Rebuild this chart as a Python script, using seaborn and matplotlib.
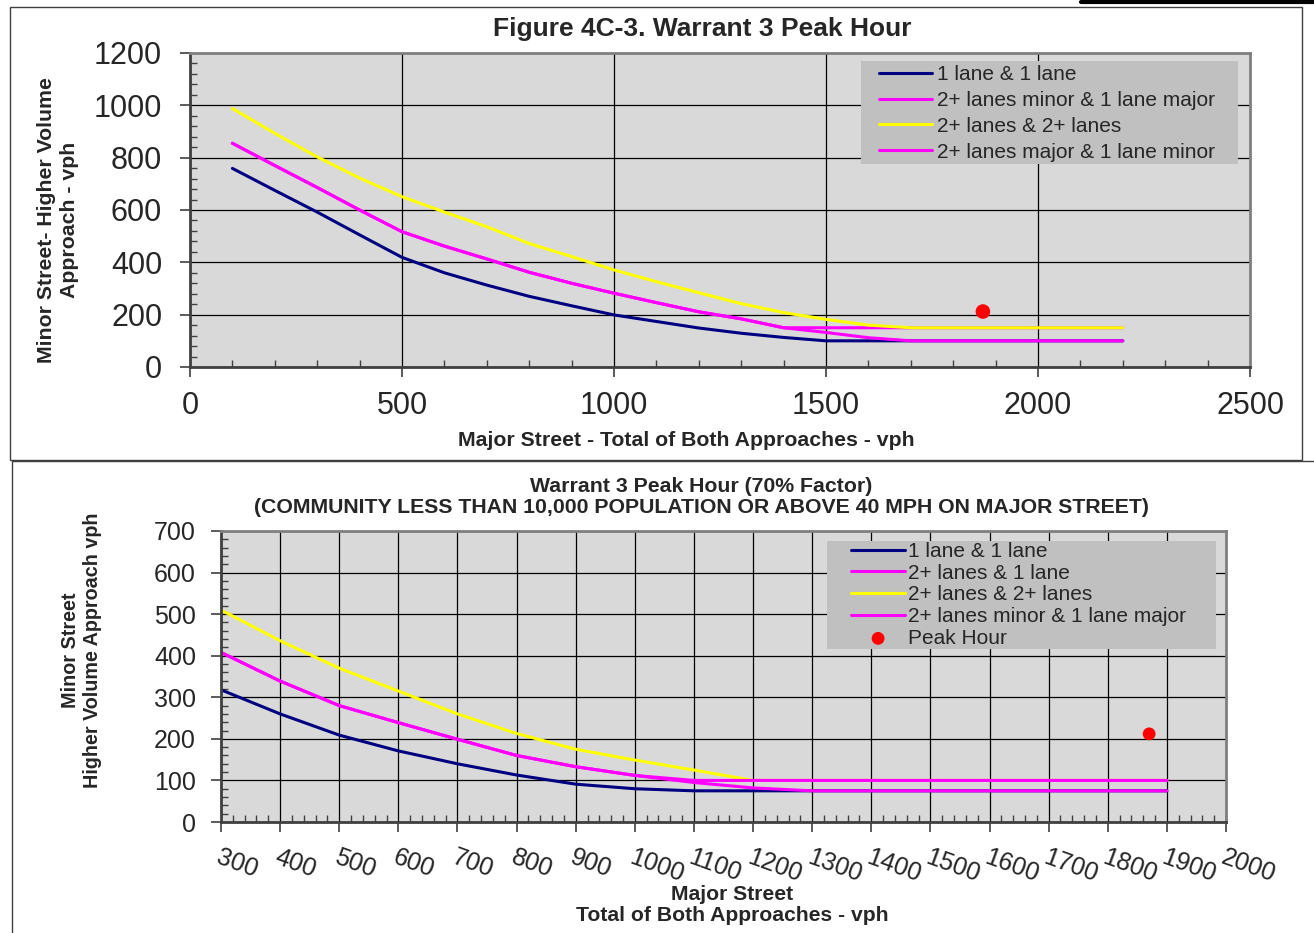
import matplotlib
matplotlib.use("Agg")
import matplotlib.pyplot as plt
import seaborn as sns
from matplotlib.ticker import MultipleLocator
from matplotlib.patches import Rectangle
from matplotlib.lines import Line2D

# --- top chart data (Figure 4C-3) ---
top_x = [100, 200, 300, 400, 500, 600, 700, 800, 900, 1000, 1100,
         1200, 1300, 1400, 1500, 1600, 1700, 1800, 1900, 2000, 2100, 2200]
top_one_one = [759, 675, 592, 505, 419, 360, 313, 270, 234, 199, 174,
               149, 129, 113, 100, 100, 100, 100, 100, 100, 100, 100]
top_minor2_major1 = [855, 770, 686, 600, 517, 462, 413, 362, 320, 282, 246,
                     211, 184, 150, 150, 150, 150, 150, 150, 150, 150, 150]
top_two_two = [988, 893, 803, 722, 651, 592, 536, 472, 422, 371, 326,
               284, 242, 208, 182, 160, 150, 150, 150, 150, 150, 150]
top_major2_minor1 = [855, 770, 686, 600, 517, 462, 413, 362, 320, 282, 246,
                     211, 184, 150, 132, 112, 100, 100, 100, 100, 100, 100]

# --- bottom chart data (70% factor) ---
bot_x = [300, 400, 500, 600, 700, 800, 900, 1000, 1100, 1200,
         1300, 1400, 1500, 1600, 1700, 1800, 1900]
bot_one_one = [318, 260, 209, 171, 140, 113, 91, 80, 75, 75,
               75, 75, 75, 75, 75, 75, 75]
bot_two_one = [408, 339, 280, 239, 199, 160, 133, 112, 95, 82,
               75, 75, 75, 75, 75, 75, 75]
bot_two_two = [510, 436, 370, 315, 260, 213, 175, 149, 125, 100,
               100, 100, 100, 100, 100, 100, 100]
bot_minor2_major1 = [408, 339, 280, 239, 199, 160, 133, 112, 100, 100,
                     100, 100, 100, 100, 100, 100, 100]
bot_ticks = [300, 400, 500, 600, 700, 800, 900, 1000, 1100, 1200,
             1300, 1400, 1500, 1600, 1700, 1800, 1900, 2000]

peak_x = [1870]
peak_y = [212]

NAVY, MAG, YEL = "#000080", "#FF00FF", "#FFFF00"

sns.set_style("white")
plt.rcParams['font.family'] = ['Liberation Sans', 'DejaVu Sans']

fig = plt.figure(figsize=(13.14, 9.33), dpi=100)
W, H = 1314, 933


def style_axes(ax, labelsize, ypad, xpad):
    ax.set_facecolor("#D9D9D9")
    ax.set_axisbelow(True)
    ax.grid(True, which="major", color="black", lw=0.9)
    for s in ["left", "bottom"]:
        ax.spines[s].set_color("#404040")
        ax.spines[s].set_linewidth(2)
    for s in ["top", "right"]:
        ax.spines[s].set_color("#808080")
        ax.spines[s].set_linewidth(2)
    ax.tick_params(which="major", direction="out", length=7, width=1.2,
                   color="#404040", bottom=True, left=True, labelsize=labelsize)
    ax.tick_params(which="minor", direction="in", length=5, width=1,
                   color="#404040", bottom=True, left=True)
    ax.tick_params(axis="y", which="major", pad=ypad)
    ax.tick_params(axis="x", which="major", pad=xpad)
    ax.set_xlabel("")
    ax.set_ylabel("")


def legend_box(ax, x0, y0, x1, y1):
    # opaque grey legend background, drawn as its own patch
    ax.add_patch(Rectangle((x0, y0), x1 - x0, y1 - y0, transform=ax.transAxes,
                           facecolor="#C0C0C0", edgecolor="none", zorder=4,
                           clip_on=False))


# ---------------- top chart ----------------
ax = fig.add_axes([190 / W, 1 - 367 / H, 1060 / W, 314 / H])
sns.lineplot(x=top_x, y=top_one_one, color=NAVY, lw=2.2, label="1 lane & 1 lane", ax=ax)
sns.lineplot(x=top_x, y=top_minor2_major1, color=MAG, lw=2.2,
             label="2+ lanes minor & 1 lane major", ax=ax)
sns.lineplot(x=top_x, y=top_two_two, color=YEL, lw=2.2, label="2+ lanes & 2+ lanes", ax=ax)
sns.lineplot(x=top_x, y=top_major2_minor1, color=MAG, lw=2.2,
             label="2+ lanes major & 1 lane minor", ax=ax)
sns.scatterplot(x=peak_x, y=peak_y, color="red", s=110, edgecolor="none",
                legend=False, zorder=5, ax=ax)
ax.set_xlim(0, 2500)
ax.set_ylim(0, 1200)
ax.xaxis.set_major_locator(MultipleLocator(500))
ax.xaxis.set_minor_locator(MultipleLocator(100))
ax.yaxis.set_major_locator(MultipleLocator(200))
ax.yaxis.set_minor_locator(MultipleLocator(40))
style_axes(ax, 22, 13, 10)
legend_box(ax, (861 - 190) / 1060, (367 - 164) / 314, (1238 - 190) / 1060, (367 - 61) / 314)
ax.legend(loc="upper left", bbox_to_anchor=((879 - 190) / 1060, (367 - 65) / 314),
          borderaxespad=0, borderpad=0, frameon=False, fontsize=15,
          handlelength=2.55, handletextpad=0.24, labelspacing=0.33)

fig.text(702 / W, 1 - 29 / H, "Figure 4C-3. Warrant 3 Peak Hour", ha="center", va="center",
         fontsize=19, fontweight="bold")
fig.text(686 / W, 1 - 441 / H, "Major Street - Total of Both Approaches - vph",
         ha="center", va="center", fontsize=15.3, fontweight="bold")
fig.text(58 / W, 1 - 220 / H, "Minor Street- Higher Volume\nApproach - vph", rotation=90,
         ha="center", va="center", multialignment="center", fontsize=15.3,
         fontweight="bold", linespacing=1.22)

# ---------------- bottom chart ----------------
ax2 = fig.add_axes([221 / W, 1 - 822 / H, 1005 / W, 291 / H])
sns.lineplot(x=bot_x, y=bot_one_one, color=NAVY, lw=2.2, label="1 lane & 1 lane", ax=ax2)
sns.lineplot(x=bot_x, y=bot_two_one, color=MAG, lw=2.2, label="2+ lanes & 1 lane", ax=ax2)
sns.lineplot(x=bot_x, y=bot_two_two, color=YEL, lw=2.2, label="2+ lanes & 2+ lanes", ax=ax2)
sns.lineplot(x=bot_x, y=bot_minor2_major1, color=MAG, lw=2.2,
             label="2+ lanes minor & 1 lane major", ax=ax2)
sns.scatterplot(x=peak_x, y=peak_y, color="red", s=85, edgecolor="none",
                label="Peak Hour", zorder=5, ax=ax2)
ax2.set_xlim(300, 2000)
ax2.set_ylim(0, 700)
ax2.set_xticks(bot_ticks)
ax2.xaxis.set_minor_locator(MultipleLocator(20))
ax2.yaxis.set_major_locator(MultipleLocator(100))
ax2.yaxis.set_minor_locator(MultipleLocator(20))
style_axes(ax2, 18, 11, 10)
for lab in ax2.get_xticklabels():
    lab.set_rotation(-20)
    lab.set_ha("left")
    lab.set_va("top")
    lab.set_rotation_mode("anchor")
legend_box(ax2, (827 - 221) / 1005, (822 - 649) / 291, (1216 - 221) / 1005, (822 - 541) / 291)
ax2.legend(loc="upper left", bbox_to_anchor=((851 - 221) / 1005, (822 - 542) / 291),
           borderaxespad=0, borderpad=0, frameon=False, fontsize=15,
           handlelength=2.6, handletextpad=0.15, labelspacing=0.13)

fig.text(701 / W, 1 - 497 / H,
         "Warrant 3 Peak Hour (70% Factor)\n(COMMUNITY LESS THAN 10,000 POPULATION OR ABOVE 40 MPH ON MAJOR STREET)",
         ha="center", va="center", multialignment="center", fontsize=15.3,
         fontweight="bold", linespacing=1.15)
fig.text(732 / W, 1 - 905 / H, "Major Street\nTotal of Both Approaches - vph",
         ha="center", va="center", multialignment="center", fontsize=15.2,
         fontweight="bold", linespacing=1.15)
fig.text(81 / W, 1 - 650 / H, "Minor Street\nHigher Volume Approach vph", rotation=90,
         ha="center", va="center", multialignment="center", fontsize=14.2,
         fontweight="bold", linespacing=1.2)

# panel borders and the stray bar at the top edge
fig.add_artist(Rectangle((10 / W, 1 - 460 / H), 1292 / W, 453 / H, fill=False,
                         edgecolor="#404040", lw=1, transform=fig.transFigure))
fig.add_artist(Rectangle((12 / W, -0.1), 1.2, 1 - 461 / H + 0.1, fill=False,
                         edgecolor="#404040", lw=1, transform=fig.transFigure))
fig.add_artist(Line2D([1081 / W, 1], [1 - 1.5 / H, 1 - 1.5 / H], color="black", lw=3,
                      transform=fig.transFigure))

fig.savefig("out.png", dpi=100, facecolor="white")
